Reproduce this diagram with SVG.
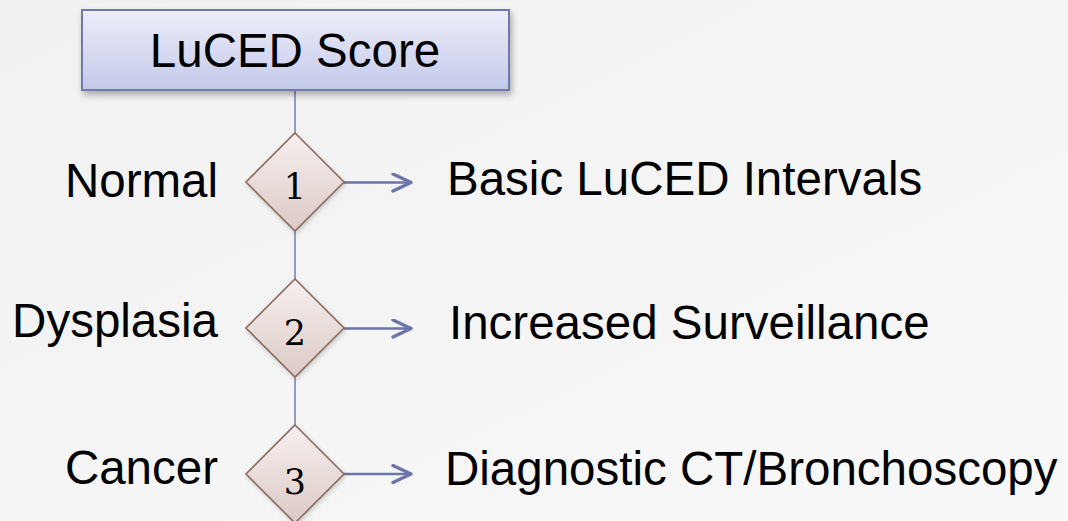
<svg xmlns="http://www.w3.org/2000/svg" width="1068" height="521" viewBox="0 0 1068 521">
  <defs>
    <linearGradient id="bg" x1="0" y1="0" x2="1" y2="1">
      <stop offset="0" stop-color="#f1f1f1"/>
      <stop offset="1" stop-color="#f8f8f8"/>
    </linearGradient>
    <linearGradient id="boxFill" x1="0" y1="0" x2="0" y2="1">
      <stop offset="0" stop-color="#eeeef9"/>
      <stop offset="1" stop-color="#c3c9ea"/>
    </linearGradient>
    <linearGradient id="diamondFill" x1="0" y1="0" x2="0" y2="1">
      <stop offset="0" stop-color="#f6f0ef"/>
      <stop offset="1" stop-color="#dcc9c5"/>
    </linearGradient>
    <filter id="shadow" x="-10%" y="-20%" width="130%" height="150%">
      <feDropShadow dx="2" dy="4" stdDeviation="3" flood-color="#000" flood-opacity="0.3"/>
    </filter>
    <filter id="softShadow" x="-20%" y="-20%" width="140%" height="140%">
      <feDropShadow dx="1" dy="2" stdDeviation="2" flood-color="#000" flood-opacity="0.18"/>
    </filter>
    <marker id="arrow" markerWidth="24" markerHeight="24" refX="20" refY="10" orient="auto" markerUnits="userSpaceOnUse">
      <path d="M2,1.5 L20,10 L2,18.5" fill="none" stroke="#6a75a8" stroke-width="3.4" stroke-linecap="round" stroke-linejoin="round"/>
    </marker>
    <style>
      .label { font-family: "Liberation Sans", Arial, sans-serif; font-size: 47.5px; fill: #000; }
      .left { text-anchor: end; }
      .digit { font-family: "DejaVu Serif", "Liberation Serif", serif; font-size: 35px; fill: #000; text-anchor: middle; }
      .box { fill: url(#boxFill); stroke: #6f79a9; stroke-width: 2; }
      .diamond { fill: url(#diamondFill); stroke: #8b6c63; stroke-width: 1.6; }
      .stem { stroke: #7a84b2; stroke-width: 1.6; fill: none; }
      .out { stroke: #6a75a8; stroke-width: 2.5; fill: none; }
    </style>
  </defs>

  <rect width="1068" height="521" fill="url(#bg)"/>

  <!-- connectors: vertical spine and outgoing arrows -->
  <g id="connectors">
    <line class="stem" x1="295" y1="90" x2="295" y2="133"/>
    <line class="stem" x1="295" y1="231" x2="295" y2="279"/>
    <line class="stem" x1="295" y1="377" x2="295" y2="425"/>
    <line class="out" x1="344" y1="182.5" x2="411" y2="182.5" marker-end="url(#arrow)"/>
    <line class="out" x1="344" y1="328.5" x2="411" y2="328.5" marker-end="url(#arrow)"/>
    <line class="out" x1="344" y1="474" x2="411" y2="474" marker-end="url(#arrow)"/>
  </g>

  <!-- score box -->
  <g id="score">
    <rect class="box" x="82" y="10" width="427" height="80" filter="url(#shadow)"/>
    <text class="label" x="295" y="67" text-anchor="middle">LuCED Score</text>
  </g>

  <!-- level 1 -->
  <g id="level1">
    <polygon class="diamond" points="295,133 344,182 295,231 246,182" filter="url(#softShadow)"/>
    <text class="digit" x="295" y="199">1</text>
    <text class="label left" x="218" y="197">Normal</text>
    <text class="label" x="447" y="195">Basic LuCED Intervals</text>
  </g>

  <!-- level 2 -->
  <g id="level2">
    <polygon class="diamond" points="295,279 344,328 295,377 246,328" filter="url(#softShadow)"/>
    <text class="digit" x="295" y="345">2</text>
    <text class="label left" x="218" y="337">Dysplasia</text>
    <text class="label" x="449" y="339">Increased Surveillance</text>
  </g>

  <!-- level 3 -->
  <g id="level3">
    <polygon class="diamond" points="295,425 344,474 295,523 246,474" filter="url(#softShadow)"/>
    <text class="digit" x="295" y="494">3</text>
    <text class="label left" x="218" y="484">Cancer</text>
    <text class="label" x="445" y="485">Diagnostic CT/Bronchoscopy</text>
  </g>
</svg>
